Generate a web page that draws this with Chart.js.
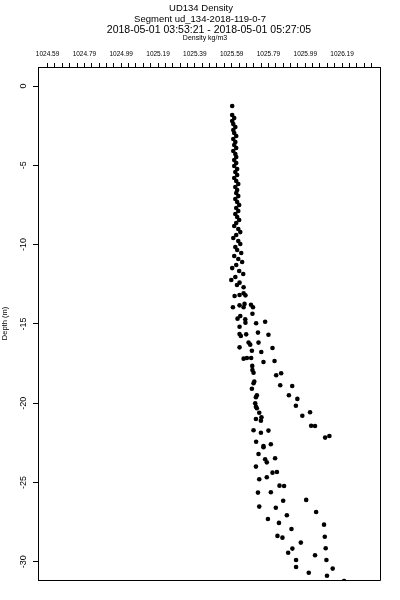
<!DOCTYPE html>
<html>
<head>
<meta charset="utf-8">
<script src="https://cdn.jsdelivr.net/npm/chart.js@4/dist/chart.umd.min.js"></script>
<style>
  body { margin: 0; background: #fff; }
  #wrap { width: 400px; height: 600px; }
</style>
</head>
<body>
<div id="wrap"><canvas id="densityChart"></canvas></div>
<script>
// Upper part of the profile (single dense column)
const upperDensity = [
  1025.593, 1025.593, 1025.604, 1025.593, 1025.599, 1025.610, 1025.599, 1025.604, 1025.615, 1025.599,
  1025.610, 1025.604, 1025.615, 1025.599, 1025.610, 1025.615, 1025.604, 1025.615, 1025.604, 1025.620,
  1025.610, 1025.620, 1025.604, 1025.615, 1025.626, 1025.610, 1025.620, 1025.615, 1025.626, 1025.610,
  1025.620, 1025.631, 1025.615, 1025.626, 1025.610, 1025.620, 1025.631, 1025.615, 1025.604, 1025.626,
  1025.637, 1025.615, 1025.599, 1025.626, 1025.637, 1025.610, 1025.620, 1025.642, 1025.604, 1025.626,
  1025.647, 1025.615, 1025.593, 1025.631, 1025.653, 1025.610, 1025.588
];
const upperDepth = [
  -1.26, -1.83, -2.02, -2.21, -2.40, -2.59, -2.77, -2.96, -3.15, -3.34,
  -3.53, -3.72, -3.91, -4.10, -4.29, -4.48, -4.67, -4.85, -5.04, -5.23,
  -5.42, -5.61, -5.80, -5.99, -6.18, -6.37, -6.56, -6.75, -6.94, -7.12,
  -7.31, -7.50, -7.69, -7.88, -8.07, -8.26, -8.45, -8.64, -8.83, -9.02,
  -9.21, -9.39, -9.58, -9.77, -9.96, -10.15, -10.34, -10.53, -10.72, -10.91,
  -11.10, -11.29, -11.48, -11.66, -11.85, -12.04, -12.23
];

// Lower part (profiles spreading apart)
const lowerDensity = [
  1025.619, 1025.633, 1025.655, 1025.606, 1025.633, 1025.655,
  1025.665, 1025.597, 1025.633, 1025.655, 1025.660, 1025.695,
  1025.706, 1025.703, 1025.622, 1025.637, 1025.664, 1025.665,
  1025.633, 1025.723, 1025.772, 1025.633, 1025.640, 1025.669,
  1025.733, 1025.790, 1025.682, 1025.691, 1025.633, 1025.736,
  1025.700, 1025.751, 1025.812, 1025.655, 1025.673, 1025.696,
  1025.763, 1025.823, 1025.702, 1025.703, 1025.709, 1025.832,
  1025.859, 1025.713, 1025.709, 1025.854, 1025.919, 1025.700,
  1025.727, 1025.722, 1025.901, 1025.947, 1025.718, 1025.722,
  1025.727, 1025.939, 1025.740, 1026.016, 1025.974, 1025.752,
  1025.749, 1025.722, 1026.022, 1026.043, 1025.709, 1025.749,
  1025.790, 1026.098, 1026.121, 1025.723, 1025.763, 1025.763,
  1025.803, 1025.736, 1025.772, 1025.781, 1025.826, 1025.722,
  1025.812, 1025.836, 1025.740, 1025.781, 1025.850, 1025.875,
  1025.733, 1025.803, 1025.870, 1025.995, 1025.740, 1025.830,
  1026.049, 1025.890, 1025.787, 1025.847, 1026.092, 1025.915,
  1025.839, 1025.866, 1026.096, 1025.966, 1025.920, 1025.897,
  1026.101, 1026.043, 1025.940, 1026.105, 1025.940, 1026.139,
  1026.009, 1026.108, 1026.201
];
const lowerDepth = [
  -12.55, -12.40, -12.69, -13.24, -13.18, -13.07,
  -13.20, -13.95, -13.83, -13.95, -13.74, -13.79,
  -13.95, -14.36, -14.67, -14.50, -14.71, -14.92,
  -15.18, -14.96, -14.86, -15.64, -15.76, -15.66,
  -15.55, -15.68, -16.18, -16.31, -16.48, -16.18,
  -16.69, -16.77, -16.52, -17.19, -17.15, -17.15,
  -17.40, -17.34, -17.65, -17.91, -18.08, -18.24,
  -18.11, -18.64, -18.74, -18.87, -18.92, -19.09,
  -19.50, -19.63, -19.50, -19.73, -20.01, -20.22,
  -20.32, -20.16, -20.60, -20.57, -20.79, -20.89,
  -21.10, -21.00, -21.42, -21.44, -21.71, -21.86,
  -21.73, -22.17, -22.07, -22.43, -22.70, -22.78,
  -22.59, -23.20, -23.54, -23.73, -23.47, -24.00,
  -24.38, -24.34, -24.80, -24.67, -25.20, -25.22,
  -25.64, -25.62, -26.15, -26.10, -26.52, -26.59,
  -26.86, -27.07, -27.30, -27.55, -27.66, -27.93,
  -28.37, -28.48, -28.42, -28.79, -29.17, -29.43,
  -29.15, -29.59, -29.89, -29.89, -30.33, -30.43,
  -30.69, -30.88, -31.21
];

// Axis ticks
const xTickLabels = ['1024.59', '1024.79', '1024.99', '1025.19', '1025.39', '1025.59', '1025.79', '1025.99', '1026.19'];
const xMinorStep = 0.04;
const xMinorCount = 45;
const yTickValues = [0, -5, -10, -15, -20, -25, -30];

const FONT = "'Liberation Sans', Arial, sans-serif";

function toPoints(xs, ys) {
  return xs.map((x, i) => ({ x, y: ys[i] }));
}

function xTickValues() {
  const start = parseFloat(xTickLabels[0]);
  const out = [];
  for (let i = 0; i < xMinorCount; i++) {
    out.push(+(start + i * xMinorStep).toFixed(2));
  }
  return out;
}

// Titles, rotated y labels and the closing box
const textPlugin = {
  id: 'profileText',
  afterDraw(chart) {
    const ctx = chart.ctx;
    const area = chart.chartArea;
    ctx.save();
    ctx.strokeStyle = '#000';
    ctx.lineWidth = 1;
    ctx.beginPath();
    ctx.moveTo(Math.round(area.left), Math.round(area.top) + 0.5);
    ctx.lineTo(Math.round(area.right) + 0.5, Math.round(area.top) + 0.5);
    ctx.lineTo(Math.round(area.right) + 0.5, Math.round(area.bottom) + 0.5);
    ctx.lineTo(Math.round(area.left), Math.round(area.bottom) + 0.5);
    ctx.stroke();

    ctx.fillStyle = '#000';
    ctx.textAlign = 'center';
    ctx.textBaseline = 'middle';

    const titles = [
      ['UD134 Density', 201, 8.5, 9.5],
      ['Segment ud_134-2018-119-0-7', 200, 19.5, 9.5],
      ['2018-05-01 03:53:21 - 2018-05-01 05:27:05', 209, 30.5, 10.5],
      ['Density kg/m3', 205, 38.5, 7]
    ];
    titles.forEach(([text, x, y, size]) => {
      ctx.font = `${size}px ${FONT}`;
      ctx.fillText(text, x, y);
    });

    // y tick labels, reading upward
    const yScale = chart.scales.y;
    ctx.font = `9px ${FONT}`;
    yTickValues.forEach((v) => {
      ctx.save();
      ctx.translate(24, yScale.getPixelForValue(v));
      ctx.rotate(-Math.PI / 2);
      ctx.fillText(String(v), 0, 0);
      ctx.restore();
    });

    ctx.font = `7.5px ${FONT}`;
    ctx.translate(5, (area.top + area.bottom) / 2);
    ctx.rotate(-Math.PI / 2);
    ctx.fillText('Depth (m)', 0, 0);
    ctx.restore();
  }
};

new Chart(document.getElementById('densityChart'), {
  type: 'scatter',
  data: {
    datasets: [{
      data: toPoints(upperDensity, upperDepth).concat(toPoints(lowerDensity, lowerDepth)),
      backgroundColor: '#000',
      borderWidth: 0,
      pointRadius: 2.3,
      pointHoverRadius: 2.3
    }]
  },
  options: {
    responsive: true,
    maintainAspectRatio: false,
    animation: false,
    layout: { padding: { left: 0, top: 0, right: 20, bottom: 20 } },
    plugins: {
      legend: { display: false },
      tooltip: { enabled: false }
    },
    scales: {
      x: {
        type: 'linear',
        position: 'top',
        min: 1024.538,
        max: 1026.396,
        afterFit: (scale) => { scale.height = 67; },
        afterBuildTicks: (scale) => {
          scale.ticks = xTickValues().map((value) => ({ value }));
        },
        border: { display: true, color: '#000', width: 1 },
        grid: { drawOnChartArea: false, drawTicks: true, tickLength: 4, color: '#000', lineWidth: 1 },
        ticks: {
          autoSkip: false,
          maxRotation: 0,
          minRotation: 0,
          padding: 5,
          color: '#000',
          font: { family: FONT, size: 6.5 },
          callback: (value) => {
            const label = value.toFixed(2);
            return xTickLabels.includes(label) ? label : '';
          }
        }
      },
      y: {
        type: 'linear',
        position: 'left',
        min: -31.15,
        max: 1.2,
        afterFit: (scale) => { scale.width = 38; },
        afterBuildTicks: (scale) => {
          scale.ticks = yTickValues.map((value) => ({ value }));
        },
        border: { display: true, color: '#000', width: 1 },
        grid: { drawOnChartArea: false, drawTicks: true, tickLength: 5, color: '#000', lineWidth: 1 },
        ticks: {
          color: '#000',
          callback: () => ''
        }
      }
    }
  },
  plugins: [textPlugin]
});
</script>
</body>
</html>
